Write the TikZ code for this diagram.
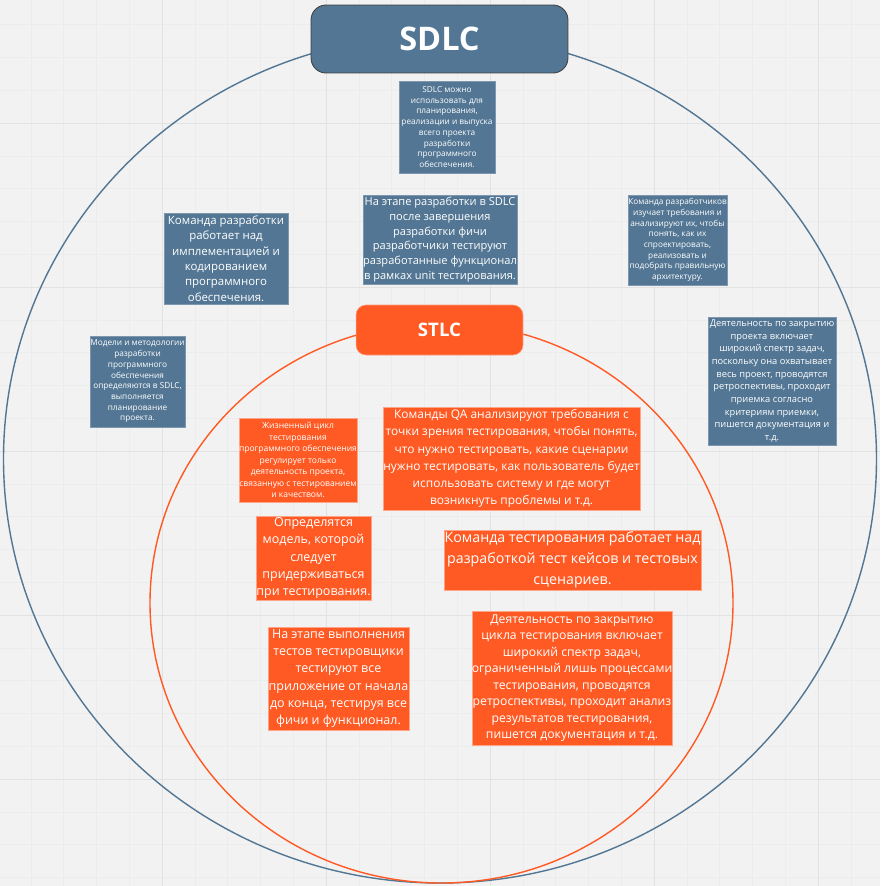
\documentclass[tikz,border=0pt]{standalone}
\usepackage{fontspec}
\setmainfont{Open Sans}
\usepackage{tikz}
\definecolor{sdlcblue}{HTML}{527693}
\definecolor{stlcorange}{HTML}{FF5A23}
\definecolor{paper}{HTML}{F2F2F2}
\definecolor{gridminor}{HTML}{ECECEC}
\definecolor{gridmajor}{HTML}{E2E2E2}
\tikzset{
	sdlcnote/.style={fill=sdlcblue, draw=sdlcblue!75!white, line width=0.3pt, text=white, align=center, inner sep=0pt},
	stlcnote/.style={fill=stlcorange, draw=stlcorange!55!white, line width=0.3pt, text=white, align=center, inner sep=0pt},
	tiny/.style={font=\fontsize{4.7}{6.1}\selectfont},
	small/.style={font=\fontsize{6.5}{8.7}\selectfont},
	medium/.style={font=\fontsize{7.1}{9.8}\selectfont},
}

\begin{document}
\begin{tikzpicture}[x=0.02cm, y=-0.02cm]
		%%%%% START %%%%%
		
		\useasboundingbox (0, 0) rectangle (880, 886);
		\fill[paper] (0, 0) rectangle (880, 886);
		
		\foreach \gx in {0,...,26} \draw[gridminor, line width=0.3pt] ({162 + 32.8*(\gx-4)}, 0) -- ({162 + 32.8*(\gx-4)}, 886);
		\foreach \gy in {0,...,27} \draw[gridminor, line width=0.3pt] (0, {451 + 32.8*(\gy-13)}) -- (880, {451 + 32.8*(\gy-13)});
		\foreach \gx in {162, 326, 490, 654, 818} \draw[gridmajor, line width=0.5pt] (\gx, 0) -- (\gx, 886);
		\foreach \gy in {123, 287, 451, 615, 779} \draw[gridmajor, line width=0.5pt] (0, \gy) -- (880, \gy);
		
		\draw[sdlcblue, line width=0.8pt] (440, 459) ellipse [x radius=436.5, y radius=424];
		\draw[stlcorange, line width=0.8pt] (441.5, 603) ellipse [x radius=291.5, y radius=280];
		
		%% SDLC
		\node[fill=sdlcblue, draw=black!75, line width=0.5pt, rounded corners=3mm, minimum width=5.14cm, minimum height=1.36cm, text=white, font=\fontsize{18.5}{20}\selectfont\bfseries] (sdlc) at (439.5, 39) {SDLC};
		
		\node[sdlcnote, tiny, minimum width=1.92cm, minimum height=1.84cm] (sdlcUse) at (447, 127) {SDLC можно\\использовать для\\планирования,\\реализации и выпуска\\всего проекта\\разработки\\программного\\обеспечения.};
		
		\node[sdlcnote, small, minimum width=2.48cm, minimum height=1.82cm] (devTeam) at (226, 258.5) {Команда разработки\\работает над\\имплементацией и\\кодированием\\программного\\обеспечения.};
		\node[sdlcnote, font=\fontsize{6.3}{8.4}\selectfont, minimum width=3.0cm, minimum height=1.78cm] (unitTest) at (440, 239.5) {На этапе разработки в SDLC\\после завершения\\разработки фичи\\разработчики тестируют\\разработанные функционал\\в рамках unit тестирования.};
		\node[sdlcnote, tiny, minimum width=1.98cm, minimum height=1.8cm] (design) at (677.5, 240) {Команда разработчиков\\изучает требования и\\анализируют их, чтобы\\понять, как их\\спроектировать,\\реализовать и\\подобрать правильную\\архитектуру.};
		
		\node[sdlcnote, tiny, minimum width=1.9cm, minimum height=1.82cm] (models) at (137.5, 381.5) {Модели и методологии\\разработки\\программного\\обеспечения\\определяются в SDLC,\\выполняется\\планирование\\проекта.};
		\node[sdlcnote, font=\fontsize{5.3}{7.2}\selectfont, minimum width=2.56cm, minimum height=2.56cm] (closure) at (772, 381) {Деятельность по закрытию\\проекта включает\\широкий спектр задач,\\поскольку она охватывает\\весь проект, проводятся\\ретроспективы, проходит\\приемка согласно\\критериям приемки,\\пишется документация и\\т.д.};
		
		%% STLC
		\node[fill=stlcorange, draw=stlcorange!60!white, line width=0.3pt, rounded corners=2mm, minimum width=3.34cm, minimum height=1.0cm, text=white, font=\fontsize{10.6}{12}\selectfont\bfseries] (stlc) at (439.5, 330) {STLC};
		
		\node[stlcnote, font=\fontsize{4.85}{6.5}\selectfont, minimum width=2.36cm, minimum height=1.68cm] (stlcScope) at (298, 460) {Жизненный цикл\\тестирования\\программного обеспечения\\регулирует только\\деятельность проекта,\\связанную с тестированием\\и качеством.};
		\node[stlcnote, font=\fontsize{6.8}{9.8}\selectfont, minimum width=5.14cm, minimum height=2.06cm] (qaReq) at (511.5, 458.5) {Команды QA анализируют требования с\\точки зрения тестирования, чтобы понять,\\что нужно тестировать, какие сценарии\\нужно тестировать, как пользователь будет\\использовать систему и где могут\\возникнуть проблемы и т.д.};
		
		\node[stlcnote, medium, minimum width=2.3cm, minimum height=1.68cm] (model) at (313.5, 558) {Определятся\\модель, которой\\следует\\придерживаться\\при тестирования.};
		\node[stlcnote, font=\fontsize{8.1}{11.9}\selectfont, minimum width=5.14cm, minimum height=1.2cm] (testCases) at (572.5, 560) {Команда тестирования работает над\\разработкой тест кейсов и тестовых\\сценариев.};
		
		\node[stlcnote, medium, minimum width=2.82cm, minimum height=2.06cm] (execution) at (338.5, 678.5) {На этапе выполнения\\тестов тестировщики\\тестируют все\\приложение от начала\\до конца, тестируя все\\фичи и функционал.};
		\node[stlcnote, font=\fontsize{6.95}{9.4}\selectfont, minimum width=3.92cm, minimum height=2.68cm] (testClosure) at (572, 678) {Деятельность по закрытию\\цикла тестирования включает\\широкий спектр задач,\\ограниченный лишь процессами\\тестирования, проводятся\\ретроспективы, проходит анализ\\результатов тестирования,\\пишется документация и т.д.};
		
		%%%%% END %%%%%
\end{tikzpicture}
\end{document}
